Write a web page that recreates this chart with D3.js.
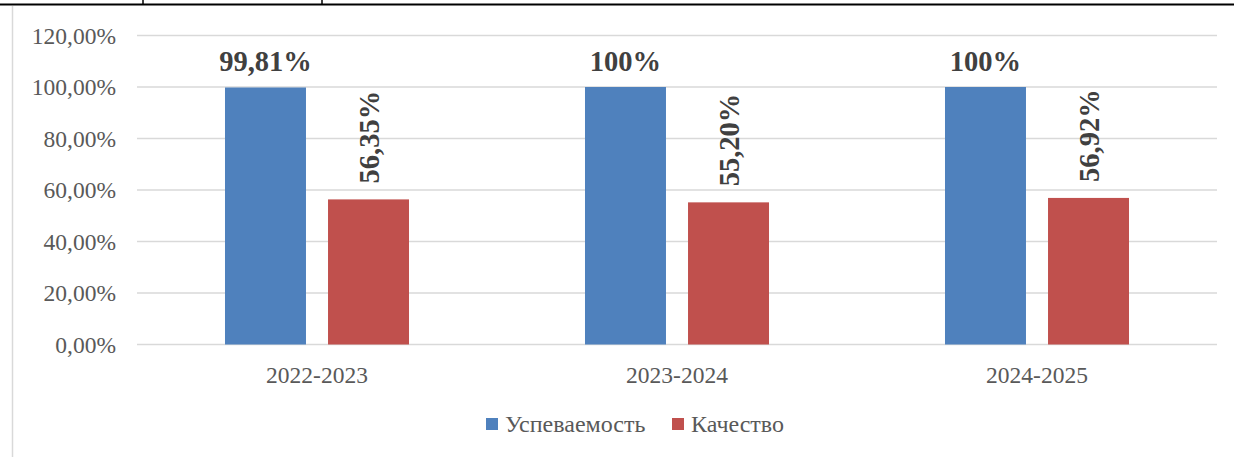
<!DOCTYPE html>
<html>
<head>
<meta charset="utf-8">
<script src="https://cdn.jsdelivr.net/npm/d3@7"></script>
<style>
  body { margin: 0; background: #fff; }
  svg { display: block; }
  text { font-family: "Liberation Serif", "Times New Roman", serif; }
</style>
</head>
<body>
<div id="chart-area"></div>
<script>
// chart data
var years = ["2022-2023", "2023-2024", "2024-2025"];
var seriesNames = ["Успеваемость", "Качество"];
var uspevaemost = [0.9981, 1.00, 1.00];
var kachestvo = [0.5635, 0.5520, 0.5692];
var uspLabels = ["99,81%", "100%", "100%"];
var kachLabels = ["56,35%", "55,20%", "56,92%"];
var yTicks = [0, 0.2, 0.4, 0.6, 0.8, 1.0, 1.2];
var colors = ["#4F81BD", "#C0504D"];

var width = 1234, height = 457;

var svg = d3.select("#chart-area")
    .append("svg")
        .attr("width", width)
        .attr("height", height);

// bits of the surrounding table left in the screenshot
svg.append("line")
    .attr("x1", 0).attr("x2", width)
    .attr("y1", 4.5).attr("y2", 4.5)
    .attr("stroke", "#000").attr("stroke-width", 2);
[143, 322].forEach(function(x){
    svg.append("line")
        .attr("x1", x).attr("x2", x)
        .attr("y1", 0).attr("y2", 4)
        .attr("stroke", "#000").attr("stroke-width", 1.5);
});
// chart frame, left edge
svg.append("line")
    .attr("x1", 12.5).attr("x2", 12.5)
    .attr("y1", 6).attr("y2", height)
    .attr("stroke", "#D9D9D9").attr("stroke-width", 1.5);

// scales
var x0 = d3.scaleBand()
    .domain(years)
    .range([137, 1217])
    .padding(0);
var x1 = d3.scaleBand()
    .domain(seriesNames)
    .range([0, x0.bandwidth()])
    .paddingInner(0.214)
    .paddingOuter(0.854);
var y = d3.scaleLinear()
    .domain([0, 1.2])
    .range([344.5, 35.5]);

var fmtTick = function(d){ return d3.format(".2f")(d * 100).replace(".", ",") + "%"; };

// gridlines
svg.append("g")
    .selectAll("line")
    .data(yTicks)
    .enter().append("line")
        .attr("x1", 137).attr("x2", 1217)
        .attr("y1", function(d){ return y(d); })
        .attr("y2", function(d){ return y(d); })
        .attr("stroke", "#D9D9D9")
        .attr("stroke-width", 1.5);

// Y axis labels
var yAxis = d3.axisLeft(y)
    .tickValues(yTicks)
    .tickFormat(fmtTick)
    .tickSize(0)
    .tickPadding(0);
var yG = svg.append("g")
    .attr("transform", "translate(116,0)")
    .call(yAxis);
yG.select(".domain").remove();
yG.selectAll("text")
    .attr("font-size", "23.5px")
    .attr("fill", "#595959")
    .attr("dy", "0.33em");

// X axis labels
var xAxis = d3.axisBottom(x0).tickSize(0).tickPadding(0);
var xG = svg.append("g")
    .attr("transform", "translate(0,344.5)")
    .call(xAxis);
xG.select(".domain").remove();
xG.selectAll("text")
    .attr("font-size", "23.5px")
    .attr("fill", "#595959")
    .attr("y", 38)
    .attr("dy", 0);

// bars
var rows = years.map(function(yr, i){
    return { year: yr, values: [
        { name: seriesNames[0], v: uspevaemost[i], label: uspLabels[i] },
        { name: seriesNames[1], v: kachestvo[i], label: kachLabels[i] }
    ]};
});

var groups = svg.append("g").selectAll("g")
    .data(rows)
    .enter().append("g")
        .attr("transform", function(d){ return "translate(" + x0(d.year) + ",0)"; });

groups.selectAll("rect")
    .data(function(d){ return d.values; })
    .enter().append("rect")
        .attr("x", function(d){ return x1(d.name); })
        .attr("width", x1.bandwidth())
        .attr("y", function(d){ return y(d.v); })
        .attr("height", function(d){ return y(0) - y(d.v); })
        .attr("fill", function(d, i){ return colors[i]; });

// labels above blue bars (horizontal)
groups.append("text")
    .datum(function(d){ return d.values[0]; })
    .attr("x", function(d){ return x1(d.name) + x1.bandwidth() / 2; })
    .attr("y", function(d){ return y(d.v) - 16; })
    .attr("text-anchor", "middle")
    .attr("font-size", "28.5px")
    .attr("font-weight", "bold")
    .attr("fill", "#404040")
    .text(function(d){ return d.label; });

// labels above red bars (rotated)
groups.append("text")
    .datum(function(d){ return d.values[1]; })
    .attr("transform", function(d){
        var cx = x1(d.name) + x1.bandwidth() / 2 + 10;
        return "translate(" + cx + "," + (y(d.v) - 16) + ") rotate(-90)";
    })
    .attr("text-anchor", "start")
    .attr("font-size", "28.5px")
    .attr("font-weight", "bold")
    .attr("fill", "#404040")
    .text(function(d){ return d.label; });

// legend
var legendX = [486, 672];
var legend = svg.append("g").selectAll("g")
    .data(seriesNames)
    .enter().append("g")
        .attr("transform", function(d, i){ return "translate(" + legendX[i] + ",418)"; });
legend.append("rect")
    .attr("width", 12).attr("height", 12)
    .attr("fill", function(d, i){ return colors[i]; });
legend.append("text")
    .attr("x", 19)
    .attr("y", 14)
    .attr("font-size", "24px")
    .attr("fill", "#595959")
    .text(function(d){ return d; });
</script>
</body>
</html>
